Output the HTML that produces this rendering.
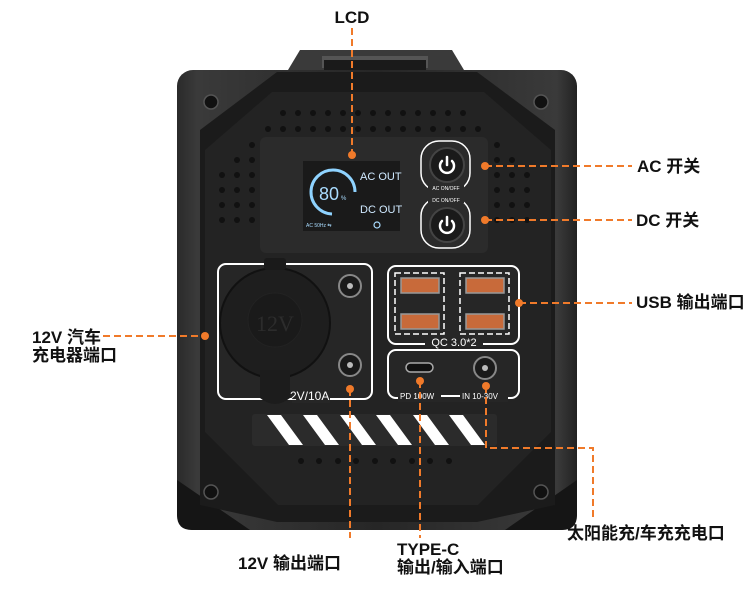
<!DOCTYPE html>
<html><head><meta charset="utf-8"><style>
html,body{margin:0;padding:0;background:#fff}
svg{display:block}
.lb{font-family:"Liberation Sans","Noto Sans CJK SC",sans-serif;font-weight:bold;font-size:17px;fill:#111}
.sm{font-family:"Liberation Sans",sans-serif;fill:#fff}
</style></head><body>
<svg width="750" height="597" viewBox="0 0 750 597" xmlns="http://www.w3.org/2000/svg">
<defs>
<linearGradient id="bd" x1="0" x2="1"><stop offset="0" stop-color="#2a2a2a"/><stop offset=".05" stop-color="#3a3a3a"/><stop offset=".5" stop-color="#262626"/><stop offset=".95" stop-color="#3a3a3a"/><stop offset="1" stop-color="#222"/></linearGradient>
</defs>
<path d="M288 70 L300 50 L452 50 L464 70 Z" fill="#3a3a3a"/>
<rect x="322" y="56" width="106" height="12" fill="#555"/>
<rect x="324" y="60" width="102" height="10" fill="#1a1a1a"/>
<rect x="177" y="70" width="400" height="460" rx="16" fill="url(#bd)"/>
<path d="M177 480 L250 530 L505 530 L577 480 L577 515 Q577 530 562 530 L192 530 Q177 530 177 515Z" fill="#151515"/>
<path d="M277 72 L200 130 L200 505 L277 522 L477 522 L555 505 L555 130 L477 72 Z" fill="#1b1b1b"/>
<path d="M272 92 L205 150 L205 432 L278 505 L478 505 L551 432 L551 150 L484 92 Z" fill="#232323"/>
<g fill="#111" stroke="#555" stroke-width="1.5">
<circle cx="211" cy="102" r="7"/><circle cx="541" cy="102" r="7"/><circle cx="211" cy="492" r="7"/><circle cx="541" cy="492" r="7"/></g>
<g fill="#111">
<circle cx="283" cy="113" r="3"/><circle cx="298" cy="113" r="3"/><circle cx="313" cy="113" r="3"/><circle cx="328" cy="113" r="3"/><circle cx="343" cy="113" r="3"/><circle cx="358" cy="113" r="3"/><circle cx="373" cy="113" r="3"/><circle cx="388" cy="113" r="3"/><circle cx="403" cy="113" r="3"/><circle cx="418" cy="113" r="3"/><circle cx="433" cy="113" r="3"/><circle cx="448" cy="113" r="3"/><circle cx="463" cy="113" r="3"/>
<circle cx="268" cy="129" r="3"/><circle cx="283" cy="129" r="3"/><circle cx="298" cy="129" r="3"/><circle cx="313" cy="129" r="3"/><circle cx="328" cy="129" r="3"/><circle cx="343" cy="129" r="3"/><circle cx="358" cy="129" r="3"/><circle cx="373" cy="129" r="3"/><circle cx="388" cy="129" r="3"/><circle cx="403" cy="129" r="3"/><circle cx="418" cy="129" r="3"/><circle cx="433" cy="129" r="3"/><circle cx="448" cy="129" r="3"/><circle cx="463" cy="129" r="3"/><circle cx="478" cy="129" r="3"/>
<circle cx="237" cy="175" r="3"/><circle cx="252" cy="175" r="3"/><circle cx="222" cy="175" r="3"/>
<circle cx="222" cy="190" r="3"/><circle cx="237" cy="190" r="3"/><circle cx="252" cy="190" r="3"/>
<circle cx="222" cy="205" r="3"/><circle cx="237" cy="205" r="3"/><circle cx="252" cy="205" r="3"/>
<circle cx="222" cy="220" r="3"/><circle cx="237" cy="220" r="3"/><circle cx="252" cy="220" r="3"/>
<circle cx="252" cy="160" r="3"/><circle cx="237" cy="160" r="3"/><circle cx="252" cy="145" r="3"/>
<circle cx="497" cy="145" r="3"/><circle cx="497" cy="160" r="3"/><circle cx="512" cy="160" r="3"/>
<circle cx="497" cy="175" r="3"/><circle cx="512" cy="175" r="3"/><circle cx="527" cy="175" r="3"/>
<circle cx="497" cy="190" r="3"/><circle cx="512" cy="190" r="3"/><circle cx="527" cy="190" r="3"/>
<circle cx="497" cy="205" r="3"/><circle cx="512" cy="205" r="3"/><circle cx="527" cy="205" r="3"/>
<circle cx="497" cy="220" r="3"/><circle cx="512" cy="220" r="3"/><circle cx="527" cy="220" r="3"/>
<circle cx="301" cy="461" r="3"/><circle cx="319" cy="461" r="3"/><circle cx="338" cy="461" r="3"/><circle cx="356" cy="461" r="3"/><circle cx="375" cy="461" r="3"/><circle cx="393" cy="461" r="3"/><circle cx="412" cy="461" r="3"/><circle cx="430" cy="461" r="3"/><circle cx="449" cy="461" r="3"/>
</g>
<rect x="260" y="137" width="228" height="116" rx="6" fill="#2b2b2b"/>
<rect x="303" y="161" width="97" height="70" fill="#1a1a1a"/>
<path d="M332 214 A22 22 0 1 1 355 192" fill="none" stroke="#8fd3ff" stroke-width="3"/>
<text x="319" y="200" class="sm" style="fill:#a9dcff;font-size:18px">80</text>
<text x="341" y="200" class="sm" style="fill:#a9dcff;font-size:6px">%</text>
<text x="360" y="180" class="sm" style="fill:#cfe9ff;font-size:11px">AC OUT</text>
<text x="360" y="213" class="sm" style="fill:#cfe9ff;font-size:11px">DC OUT</text>
<text x="306" y="227" class="sm" style="fill:#a9dcff;font-size:5px">AC 50Hz  ⇆</text>
<circle cx="377" cy="225" r="3" fill="none" stroke="#a9dcff" stroke-width="1.2"/>
<rect x="421" y="141" width="49" height="50" rx="18" fill="none" stroke="#fff" stroke-width="1.5"/>
<rect x="421" y="198" width="49" height="50" rx="18" fill="none" stroke="#fff" stroke-width="1.5"/>
<rect x="428" y="184" width="36" height="8" fill="#2b2b2b"/><rect x="428" y="195" width="36" height="8" fill="#2b2b2b"/>
<text x="446" y="190" text-anchor="middle" class="sm" style="font-size:5px">AC ON/OFF</text>
<text x="446" y="202" text-anchor="middle" class="sm" style="font-size:5px">DC ON/OFF</text>
<circle cx="447" cy="165" r="17" fill="#1a1a1a" stroke="#444" stroke-width="2"/>
<circle cx="447" cy="225" r="17" fill="#1a1a1a" stroke="#444" stroke-width="2"/>
<g fill="none" stroke="#fff" stroke-width="2.5" stroke-linecap="round">
<path d="M442 161 A7 7 0 1 0 452 161"/><path d="M447 157 V165"/>
<path d="M442 221 A7 7 0 1 0 452 221"/><path d="M447 217 V225"/></g>
<rect x="218" y="264" width="154" height="135" rx="8" fill="#262626" stroke="#fff" stroke-width="2"/>
<circle cx="275" cy="323" r="55" fill="#1e1e1e" stroke="#111" stroke-width="2"/>
<circle cx="275" cy="320" r="27" fill="#1a1a1a" stroke="#222"/>
<text x="275" y="331" text-anchor="middle" style="font-family:'Liberation Serif',serif;font-size:22px;fill:#2c2c2c">12V</text>
<rect x="264" y="258" width="22" height="12" rx="3" fill="#1a1a1a"/>
<path d="M260 370 L290 370 L290 398 Q275 410 260 398Z" fill="#1c1c1c"/>
<rect x="292" y="391" width="38" height="12" fill="#262626"/>
<text x="290" y="400" class="sm" style="font-size:12px">2V/10A</text>
<circle cx="350" cy="286" r="11" fill="#1a1a1a" stroke="#888" stroke-width="2"/><circle cx="350" cy="286" r="3" fill="#bbb"/>
<circle cx="350" cy="365" r="11" fill="#1a1a1a" stroke="#888" stroke-width="2"/><circle cx="350" cy="365" r="3" fill="#bbb"/>
<rect x="388" y="266" width="131" height="78" rx="8" fill="#262626" stroke="#fff" stroke-width="2"/>
<rect x="395" y="273" width="49" height="61" fill="none" stroke="#fff" stroke-width="1.5" stroke-dasharray="6 3"/>
<rect x="460" y="273" width="49" height="61" fill="none" stroke="#fff" stroke-width="1.5" stroke-dasharray="6 3"/>
<g fill="#c86a3a" stroke="#999" stroke-width="1.5">
<rect x="401" y="278" width="38" height="15"/><rect x="466" y="278" width="38" height="15"/>
<rect x="401" y="314" width="38" height="15"/><rect x="466" y="314" width="38" height="15"/></g>
<rect x="425" y="337" width="58" height="10" fill="#262626"/>
<text x="454" y="346" text-anchor="middle" class="sm" style="font-size:11px">QC 3.0*2</text>
<rect x="388" y="350" width="131" height="48" rx="8" fill="#262626" stroke="#fff" stroke-width="2"/>
<rect x="398" y="392" width="110" height="10" fill="#262626"/>
<text x="400" y="399" class="sm" style="font-size:8px">PD  100W</text>
<text x="462" y="399" class="sm" style="font-size:8px">IN 10-30V</text>
<line x1="441" y1="396" x2="460" y2="396" stroke="#fff" stroke-width="2"/>
<rect x="406" y="363" width="27" height="9" rx="4.5" fill="#111" stroke="#aaa" stroke-width="1.5"/>
<circle cx="485" cy="368" r="11" fill="#1a1a1a" stroke="#888" stroke-width="2"/><circle cx="485" cy="368" r="3" fill="#bbb"/>
<rect x="252" y="414" width="245" height="32" rx="3" fill="#2b2b2b"/>
<g fill="#fff">
<path d="M267 415 L281 415 L303 445 L289 445Z"/><path d="M303 415 L317 415 L339 445 L325 445Z"/><path d="M340 415 L354 415 L376 445 L362 445Z"/><path d="M376 415 L390 415 L412 445 L398 445Z"/><path d="M413 415 L427 415 L449 445 L435 445Z"/><path d="M449 415 L463 415 L485 445 L471 445Z"/></g>
<g stroke="#f07a2a" stroke-width="2" stroke-dasharray="7 4" fill="none">
<path d="M352 28 V155"/>
<path d="M485 166 H632"/>
<path d="M485 220 H632"/>
<path d="M519 303 H632"/>
<path d="M103 336 H205"/>
<path d="M350 389 V538"/>
<path d="M420 381 V538"/>
<path d="M486 386 V448 H593 V518"/>
</g>
<g fill="#f07a2a">
<circle cx="352" cy="155" r="4"/><circle cx="485" cy="166" r="4"/><circle cx="485" cy="220" r="4"/><circle cx="519" cy="303" r="4"/><circle cx="205" cy="336" r="4"/><circle cx="350" cy="389" r="4"/><circle cx="420" cy="381" r="4"/><circle cx="486" cy="386" r="4"/></g>
<text x="352" y="23" text-anchor="middle" class="lb">LCD</text>
<text x="637" y="172" class="lb">AC 开关</text>
<text x="636" y="226" class="lb">DC 开关</text>
<text x="636" y="308" class="lb">USB 输出端口</text>
<text x="32" y="343" class="lb">12V 汽车</text>
<text x="32" y="361" class="lb">充电器端口</text>
<text x="238" y="569" class="lb">12V 输出端口</text>
<text x="397" y="555" class="lb">TYPE-C</text>
<text x="397" y="573" class="lb">输出/输入端口</text>
<text x="567" y="539" class="lb">太阳能充/车充充电口</text>
</svg>
</body></html>
